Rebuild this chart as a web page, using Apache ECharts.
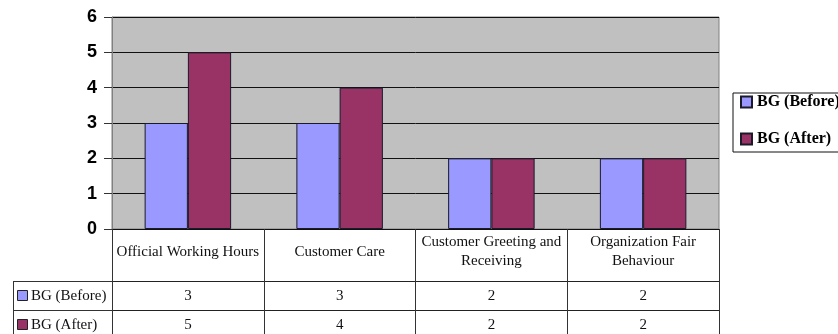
<!DOCTYPE html>
<html>
<head>
<meta charset="utf-8">
<script src="https://cdn.jsdelivr.net/npm/echarts@6/dist/echarts.min.js"></script>
<style>
  html, body { margin: 0; padding: 0; background: #fff; }
  #chart { width: 838px; height: 334px; }
</style>
</head>
<body>
<div id="chart"></div>
<script>
// Categories (header row of the data table; line breaks as shown in the cells)
const categories = [
  'Official Working Hours',
  'Customer Care',
  'Customer Greeting and\nReceiving',
  'Organization Fair\nBehaviour'
];
const seriesNames = ['BG (Before)', 'BG (After)'];
const beforeValues = [3, 3, 2, 2];
const afterValues = [5, 4, 2, 2];
const yTicks = [0, 1, 2, 3, 4, 5, 6];

const colors = ['#9999FF', '#993366'];
const serif = '"Liberation Serif", "Times New Roman", serif';
const sans = '"Liberation Sans", Arial, sans-serif';

const chart = echarts.init(document.getElementById('chart'));

// Table row axes: each one shows a series' values under its category column
function rowAxis(offset, values) {
  return {
    type: 'category',
    data: categories,
    position: 'bottom',
    offset: offset,
    axisLine: { show: true, lineStyle: { color: '#222', width: 1 } },
    axisTick: { show: false },
    axisLabel: {
      interval: 0,
      margin: 15,
      verticalAlign: 'middle',
      fontFamily: serif,
      fontSize: 15,
      color: '#111',
      formatter: (v, i) => String(values[i])
    }
  };
}

chart.setOption({
  animation: false,
  backgroundColor: '#fff',
  grid: {
    left: 112, top: 17, width: 607, height: 212,
    show: true,
    backgroundColor: '#C0C0C0',
    borderColor: '#808080',
    borderWidth: 1
  },
  legend: {
    orient: 'vertical',
    left: 733,
    top: 93,
    padding: [1, 8, 5, 7],
    itemGap: 21,
    itemWidth: 11,
    itemHeight: 11,
    borderColor: '#111',
    borderWidth: 1,
    icon: 'rect',
    data: seriesNames,
    textStyle: {
      fontFamily: serif,
      fontWeight: 'bold',
      fontSize: 16,
      lineHeight: 16,
      color: '#000'
    }
  },
  xAxis: [
    {
      type: 'category',
      data: categories,
      axisLine: { show: true, lineStyle: { color: '#111', width: 1 } },
      axisTick: {
        show: true,
        interval: 0,
        alignWithLabel: false,
        length: 106,
        lineStyle: { color: '#333', width: 1 }
      },
      axisLabel: {
        interval: 0,
        margin: 23,
        verticalAlign: 'middle',
        lineHeight: 19,
        fontFamily: serif,
        fontSize: 15,
        color: '#111'
      }
    },
    rowAxis(52, beforeValues),
    rowAxis(81, afterValues)
  ],
  yAxis: {
    type: 'value',
    min: 0,
    max: 6,
    interval: 1,
    axisLine: { show: true, lineStyle: { color: '#808080' } },
    axisTick: { show: true, length: 8, lineStyle: { color: '#333' } },
    splitLine: { show: true, lineStyle: { color: '#111', width: 1 } },
    axisLabel: {
      margin: 15,
      fontFamily: sans,
      fontWeight: 'bold',
      fontSize: 18,
      color: '#000',
      formatter: v => (yTicks.includes(v) ? String(v) : '')
    }
  },
  series: [
    {
      name: seriesNames[0],
      type: 'bar',
      data: beforeValues,
      barGap: '0%',
      barCategoryGap: '43%',
      itemStyle: { color: colors[0], borderColor: '#1a1a2a', borderWidth: 1 }
    },
    {
      name: seriesNames[1],
      type: 'bar',
      data: afterValues,
      barGap: '0%',
      barCategoryGap: '43%',
      itemStyle: { color: colors[1], borderColor: '#1a1a2a', borderWidth: 1 }
    }
  ]
});

// Row-header column of the data table (left of the plot)
const gridRect = { left: 112 };
const row1Y = chart.convertToPixel({ gridIndex: 0 }, [0, 0])[1] + 52;
const row2Y = row1Y + 29;
const tableLeft = 13;
const lineStyle = { stroke: '#333', lineWidth: 1 };
const headerGraphics = [
  { type: 'line', shape: { x1: tableLeft, y1: row1Y + 0.5, x2: gridRect.left, y2: row1Y + 0.5 }, style: lineStyle },
  { type: 'line', shape: { x1: tableLeft, y1: row2Y + 0.5, x2: gridRect.left, y2: row2Y + 0.5 }, style: lineStyle },
  { type: 'line', shape: { x1: tableLeft + 0.5, y1: row1Y, x2: tableLeft + 0.5, y2: 334 }, style: lineStyle }
];
[row1Y, row2Y].forEach((y, i) => {
  const cy = y + 15;
  headerGraphics.push({
    type: 'rect',
    shape: { x: 17.5, y: cy - 5.5, width: 10, height: 10 },
    style: { fill: colors[i], stroke: '#222', lineWidth: 1 }
  });
  headerGraphics.push({
    type: 'text',
    x: 31, y: cy,
    style: {
      text: seriesNames[i],
      fontFamily: serif, fontSize: 15, fill: '#111',
      textVerticalAlign: 'middle', verticalAlign: 'middle'
    }
  });
});
chart.setOption({ graphic: headerGraphics });
</script>
</body>
</html>
